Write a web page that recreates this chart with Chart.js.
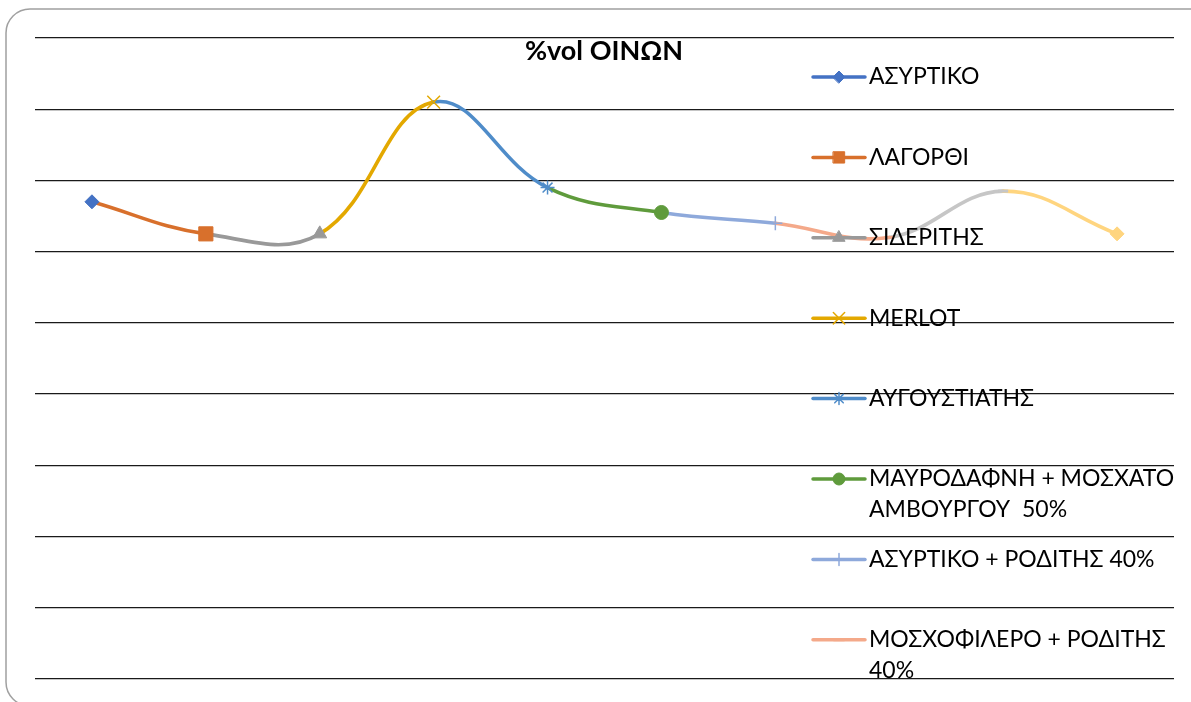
<!DOCTYPE html>
<html>
<head>
<meta charset="utf-8">
<script src="https://cdn.jsdelivr.net/npm/chart.js@4.4.1/dist/chart.umd.min.js"></script>
<style>
html, body { margin: 0; padding: 0; background: #fff; overflow: hidden; }
</style>
</head>
<body>
<canvas id="wine-chart" width="1191" height="702"></canvas>
<script>
// wines (legend / categories) - multi-line names are kept as shown in the legend
var wines = [
    'ΑΣΥΡΤΙΚΟ',
    'ΛΑΓΟΡΘΙ',
    'ΣΙΔΕΡΙΤΗΣ',
    'MERLOT',
    'ΑΥΓΟΥΣΤΙΑΤΗΣ',
    ['ΜΑΥΡΟΔΑΦΝΗ + ΜΟΣΧΑΤΟ', 'ΑΜΒΟΥΡΓΟΥ  50%'],
    'ΑΣΥΡΤΙΚΟ + ΡΟΔΙΤΗΣ 40%',
    ['ΜΟΣΧΟΦΙΛΕΡΟ + ΡΟΔΙΤΗΣ', '40%'],
    'ΟΙΝΟΣ 9',
    'ΟΙΝΟΣ 10'
];
// %vol for each wine
var alcohol = [13.4, 12.5, 12.5, 16.2, 13.8, 13.1, 12.8, 12.4, 13.7, 12.5];
// value axis (labels hidden in the original)
var yMin = 0;
var yMax = 18;
var yStep = 2;
var chartTitle = '%vol ΟΙΝΩΝ';

var colors = ['#4472C4', '#D8702C', '#999999', '#E3A800', '#4F8CC9', '#5F9B3C', '#8EA9DB', '#F4A98A', '#C6C6C6', '#FFD57F'];
var markers = ['rectRot', 'rect', 'triangle', 'crossRot', 'star', 'circle', 'cross', 'line', 'line', 'rectRot'];
var markerSize = [7, 10, 8, 9, 7, 7, 7, 5, 5, 7];
var markerLine = [1, 1, 1, 1.5, 1.5, 1, 1.5, 3, 3, 1];
var legendSize = [6, 8, 7, 8, 6, 6, 6, 5, 5, 6];

var FONT = 'Lato, "Liberation Sans", Arial, sans-serif';

var frame = {
    id: 'frame',
    beforeDraw: function(chart) {
        var ctx = chart.ctx;
        ctx.save();
        ctx.fillStyle = '#fff';
        ctx.fillRect(0, 0, chart.width, chart.height);
        ctx.strokeStyle = '#a0a0a0';
        ctx.lineWidth = 1.5;
        ctx.beginPath();
        ctx.roundRect(6, 9, 1220, 697, 24);
        ctx.stroke();
        ctx.restore();
    }
};

function marker(ctx, i, x, y, r) {
    ctx.fillStyle = colors[i];
    ctx.strokeStyle = colors[i];
    ctx.lineWidth = markerLine[i];
    if (Chart.helpers && Chart.helpers.drawPoint) {
        Chart.helpers.drawPoint(ctx, { pointStyle: markers[i], radius: r, borderWidth: markerLine[i], rotation: 0 }, x, y);
    } else {
        ctx.beginPath();
        ctx.arc(x, y, r * 0.8, 0, Math.PI * 2);
        ctx.fill();
    }
}

var legendAndTitle = {
    id: 'legendAndTitle',
    afterDraw: function(chart) {
        var ctx = chart.ctx;
        ctx.save();
        ctx.fillStyle = '#000';
        ctx.font = 'bold 27px ' + FONT;
        ctx.textAlign = 'center';
        ctx.textBaseline = 'alphabetic';
        ctx.fillText(chartTitle, 604, 60);

        ctx.font = '23px ' + FONT;
        ctx.textAlign = 'left';
        ctx.textBaseline = 'middle';
        for (var i = 0; i < wines.length; i++) {
            var y = 77 + i * 80.4;
            if (y > chart.height) break;
            ctx.strokeStyle = colors[i];
            ctx.lineWidth = 3.5;
            ctx.lineCap = 'round';
            ctx.beginPath();
            ctx.moveTo(813, y);
            ctx.lineTo(865, y);
            ctx.stroke();
            marker(ctx, i, 839, y, legendSize[i]);
            var lines = Array.isArray(wines[i]) ? wines[i] : [wines[i]];
            ctx.fillStyle = '#000';
            for (var k = 0; k < lines.length; k++) {
                ctx.fillText(lines[k], 869, y + k * 31);
            }
        }
        ctx.restore();
    }
};

new Chart(document.getElementById('wine-chart'), {
    type: 'line',
    data: {
        labels: wines,
        datasets: [
            {
                label: chartTitle,
                data: alcohol,
                borderWidth: 3.6,
                borderColor: colors[0],
                borderCapStyle: 'round',
                tension: 0.4,
                pointStyle: markers,
                pointRadius: markerSize,
                pointHoverRadius: markerSize,
                pointBorderWidth: markerLine,
                pointBackgroundColor: colors,
                pointBorderColor: colors,
                segment: {
                    borderColor: function(ctx) { return colors[ctx.p1DataIndex]; }
                }
            }
        ]
    },
    options: {
        responsive: false,
        animation: false,
        layout: { padding: { left: 35, right: 17, top: 38, bottom: 23 } },
        plugins: {
            legend: { display: false },
            title: { display: false },
            tooltip: { enabled: false }
        },
        scales: {
            x: {
                display: false,
                offset: true
            },
            y: {
                min: yMin,
                max: yMax,
                ticks: { display: false, stepSize: yStep },
                grid: { color: '#1a1a1a', lineWidth: 1.3, drawTicks: false },
                border: { display: false }
            }
        }
    },
    plugins: [frame, legendAndTitle]
});
</script>
</body>
</html>
